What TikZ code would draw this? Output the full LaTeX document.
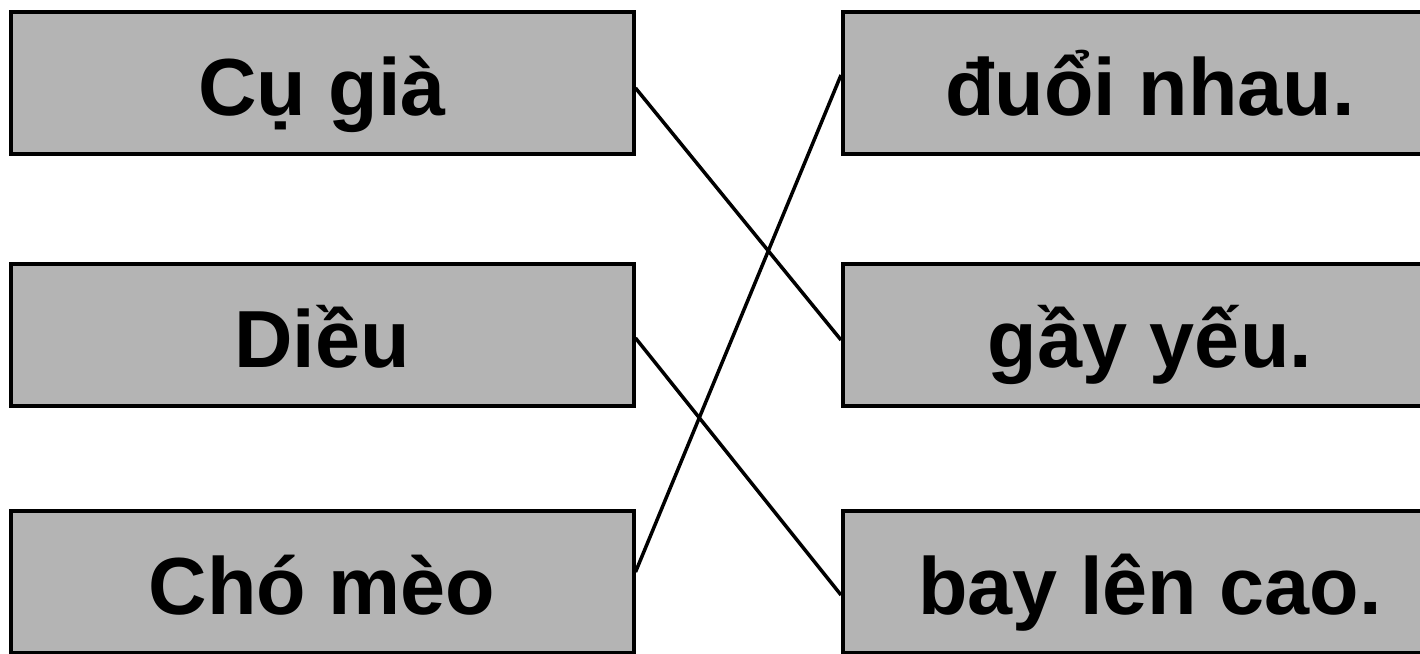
\documentclass[tikz,border=0pt]{standalone}
\usepackage{fontspec}
\setmainfont{Liberation Sans}
\definecolor{boxgray}{RGB}{180,180,180}
\tikzset{
  wordbox/.style={draw=black, line width=4pt, fill=boxgray, inner sep=0pt,
    minimum height=142pt, text height=64pt, text depth=0pt,
    font=\fontsize{81}{90}\selectfont\bfseries},
  leftbox/.style={wordbox, minimum width=623pt},
  rightbox/.style={wordbox, minimum width=614pt},
  link/.style={draw=black, line width=3.5pt}
}
\begin{document}
\begin{tikzpicture}[x=1pt,y=-1pt]
\useasboundingbox (0,0) rectangle (1420,653);
\clip (0,0) rectangle (1420,653);
\fill[white] (0,0) rectangle (1420,653);
\node[leftbox] (cu) at (322,83) {Cụ già};
\node[leftbox] (dieu) at (322,335) {Diều};
\node[leftbox] (cho) at (322,582) {Chó mèo};
\node[rightbox] (duoi) at (1150,83) {đuổi nhau.};
\node[rightbox] (gay) at (1150,335) {gầy yếu.};
\node[rightbox] (bay) at (1150,582) {bay lên cao.};
\draw[link] ([yshift=-5pt]cu.east) -- ([yshift=-5pt]gay.west);
\draw[link] ([yshift=8pt]duoi.west) -- ([yshift=10pt]cho.east);
\draw[link] ([yshift=-3pt]dieu.east) -- ([yshift=-13pt]bay.west);
\end{tikzpicture}
\end{document}
